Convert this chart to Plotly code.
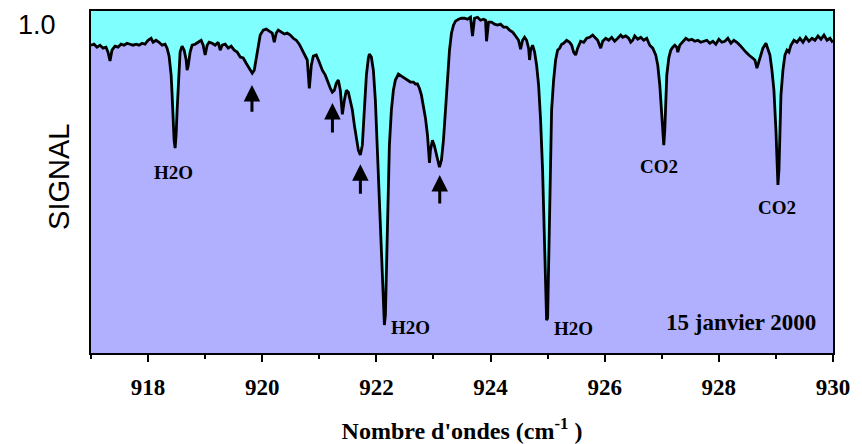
import plotly.graph_objects as go

# Atmospheric transmission spectrum, 15 January 2000
wavenumber = [
    917.000, 917.053, 917.105, 917.158, 917.211, 917.263, 917.298, 917.333, 917.368, 917.421,
    917.474, 917.526, 917.579, 917.632, 917.684, 917.737, 917.789, 917.842, 917.895, 917.947,
    918.000, 918.053, 918.088, 918.140, 918.193, 918.246, 918.298, 918.333, 918.368, 918.404,
    918.421, 918.439, 918.456, 918.474, 918.491, 918.509, 918.526, 918.544, 918.561, 918.596,
    918.632, 918.667, 918.684, 918.702, 918.737, 918.772, 918.825, 918.877, 918.930, 918.965,
    919.000, 919.035, 919.070, 919.123, 919.175, 919.228, 919.263, 919.298, 919.351, 919.404,
    919.456, 919.509, 919.561, 919.614, 919.667, 919.719, 919.772, 919.825, 919.860, 919.895,
    919.930, 919.965, 920.018, 920.070, 920.123, 920.175, 920.211, 920.246, 920.281, 920.333,
    920.386, 920.439, 920.491, 920.544, 920.596, 920.649, 920.702, 920.754, 920.789, 920.825,
    920.860, 920.895, 920.947, 921.000, 921.053, 921.105, 921.158, 921.193, 921.228, 921.263,
    921.298, 921.333, 921.368, 921.404, 921.439, 921.474, 921.509, 921.544, 921.579, 921.614,
    921.649, 921.684, 921.719, 921.754, 921.789, 921.825, 921.860, 921.877, 921.912, 921.947,
    921.982, 922.018, 922.053, 922.088, 922.123, 922.140, 922.158, 922.175, 922.193, 922.211,
    922.228, 922.263, 922.298, 922.333, 922.386, 922.439, 922.491, 922.544, 922.596, 922.649,
    922.684, 922.719, 922.754, 922.789, 922.825, 922.860, 922.895, 922.912, 922.930, 922.947,
    922.982, 923.018, 923.053, 923.088, 923.105, 923.140, 923.175, 923.211, 923.246, 923.281,
    923.316, 923.351, 923.386, 923.439, 923.491, 923.544, 923.596, 923.649, 923.684, 923.719,
    923.772, 923.825, 923.877, 923.912, 923.930, 923.965, 924.018, 924.070, 924.123, 924.175,
    924.228, 924.281, 924.333, 924.386, 924.439, 924.491, 924.526, 924.561, 924.596, 924.632,
    924.667, 924.684, 924.702, 924.737, 924.772, 924.807, 924.842, 924.877, 924.912, 924.947,
    924.982, 925.000, 925.018, 925.035, 925.053, 925.070, 925.105, 925.140, 925.175, 925.211,
    925.246, 925.281, 925.333, 925.386, 925.421, 925.456, 925.491, 925.526, 925.579, 925.632,
    925.684, 925.737, 925.789, 925.825, 925.877, 925.930, 925.965, 926.018, 926.070, 926.123,
    926.175, 926.228, 926.281, 926.316, 926.368, 926.421, 926.456, 926.491, 926.526, 926.579,
    926.632, 926.684, 926.737, 926.789, 926.842, 926.895, 926.930, 926.965, 927.000, 927.018,
    927.035, 927.053, 927.070, 927.088, 927.123, 927.158, 927.193, 927.228, 927.263, 927.281,
    927.316, 927.368, 927.421, 927.474, 927.526, 927.579, 927.632, 927.684, 927.737, 927.789,
    927.842, 927.895, 927.947, 928.000, 928.053, 928.105, 928.158, 928.211, 928.263, 928.316,
    928.368, 928.421, 928.474, 928.526, 928.579, 928.632, 928.667, 928.702, 928.737, 928.772,
    928.825, 928.860, 928.895, 928.930, 928.965, 929.000, 929.018, 929.035, 929.053, 929.070,
    929.088, 929.123, 929.158, 929.193, 929.228, 929.263, 929.316, 929.368, 929.421, 929.474,
    929.526, 929.579, 929.632, 929.684, 929.737, 929.789, 929.842, 929.895, 929.947, 929.982,
    930.000,
]

signal = [
    0.936, 0.939, 0.930, 0.936, 0.927, 0.930, 0.915, 0.888, 0.921, 0.933,
    0.930, 0.939, 0.936, 0.942, 0.939, 0.936, 0.939, 0.936, 0.942, 0.939,
    0.951, 0.957, 0.945, 0.951, 0.945, 0.936, 0.939, 0.927, 0.903, 0.845,
    0.784, 0.708, 0.647, 0.623, 0.663, 0.739, 0.815, 0.875, 0.915, 0.933,
    0.921, 0.891, 0.860, 0.872, 0.915, 0.936, 0.939, 0.945, 0.951, 0.936,
    0.906, 0.936, 0.945, 0.942, 0.936, 0.945, 0.921, 0.936, 0.939, 0.927,
    0.933, 0.921, 0.915, 0.900, 0.897, 0.881, 0.866, 0.851, 0.860, 0.897,
    0.936, 0.967, 0.982, 0.985, 0.979, 0.973, 0.945, 0.973, 0.982, 0.976,
    0.970, 0.973, 0.967, 0.957, 0.951, 0.939, 0.921, 0.906, 0.891, 0.805,
    0.875, 0.903, 0.906, 0.884, 0.860, 0.845, 0.818, 0.805, 0.793, 0.799,
    0.821, 0.830, 0.799, 0.726, 0.769, 0.799, 0.793, 0.769, 0.739, 0.693,
    0.653, 0.617, 0.602, 0.632, 0.739, 0.845, 0.897, 0.909, 0.900, 0.860,
    0.769, 0.617, 0.465, 0.283, 0.131, 0.085, 0.116, 0.252, 0.404, 0.526,
    0.632, 0.739, 0.799, 0.830, 0.848, 0.842, 0.836, 0.830, 0.824, 0.824,
    0.818, 0.818, 0.805, 0.784, 0.754, 0.714, 0.663, 0.617, 0.578, 0.617,
    0.647, 0.629, 0.602, 0.578, 0.565, 0.587, 0.647, 0.739, 0.845, 0.921,
    0.973, 0.997, 1.009, 1.015, 1.018, 1.018, 1.015, 1.021, 0.964, 1.018,
    1.021, 1.012, 1.015, 1.012, 0.948, 1.006, 1.006, 1.000, 0.997, 1.000,
    0.991, 0.991, 0.982, 0.976, 0.964, 0.951, 0.924, 0.951, 0.960, 0.951,
    0.927, 0.891, 0.921, 0.936, 0.915, 0.875, 0.815, 0.708, 0.556, 0.343,
    0.100, 0.106, 0.252, 0.435, 0.617, 0.739, 0.830, 0.891, 0.921, 0.927,
    0.939, 0.942, 0.951, 0.945, 0.936, 0.915, 0.906, 0.927, 0.948, 0.945,
    0.957, 0.960, 0.967, 0.960, 0.951, 0.927, 0.948, 0.957, 0.951, 0.960,
    0.948, 0.957, 0.967, 0.960, 0.964, 0.957, 0.945, 0.951, 0.964, 0.954,
    0.960, 0.951, 0.957, 0.936, 0.927, 0.906, 0.875, 0.815, 0.723, 0.663,
    0.632, 0.678, 0.769, 0.845, 0.897, 0.921, 0.930, 0.936, 0.930, 0.915,
    0.936, 0.945, 0.957, 0.951, 0.954, 0.948, 0.951, 0.945, 0.948, 0.951,
    0.942, 0.948, 0.939, 0.954, 0.945, 0.948, 0.957, 0.942, 0.951, 0.945,
    0.936, 0.927, 0.915, 0.906, 0.897, 0.891, 0.866, 0.884, 0.906, 0.927,
    0.942, 0.927, 0.906, 0.860, 0.799, 0.678, 0.571, 0.511, 0.556, 0.678,
    0.784, 0.860, 0.906, 0.921, 0.915, 0.936, 0.951, 0.945, 0.957, 0.945,
    0.960, 0.948, 0.957, 0.951, 0.964, 0.954, 0.967, 0.951, 0.957, 0.948,
    0.951,
]

# Identified absorption lines (label, wavenumber, signal where the label sits)
band_labels = ["H2O", "H2O", "H2O", "CO2", "CO2"]
band_label_x = [918.44, 922.60, 925.46, 926.96, 929.02]
band_label_y = [0.550, 0.079, 0.076, 0.568, 0.441]

# Unidentified features marked with arrows (wavenumber, arrow tip, arrow tail)
arrow_x = [919.82, 921.23, 921.72, 923.11]
arrow_tip = [0.815, 0.760, 0.574, 0.541]
arrow_tail = [0.729, 0.666, 0.480, 0.450]

date_label = "15 janvier 2000"
date_x = 928.39
date_y = 0.094

serif_bold = dict(family="Liberation Serif", color="black", weight="bold")

fig = go.Figure()
fig.add_trace(go.Scatter(
    x=wavenumber, y=signal, mode="lines",
    line=dict(color="black", width=2.8),
    fill="tozeroy", fillcolor="#B0B0FF",
    showlegend=False, hoverinfo="skip",
))

annotations = []
for text, x, y in zip(band_labels, band_label_x, band_label_y):
    annotations.append(dict(x=x, y=y, xref="x", yref="y", text=text, showarrow=False,
                            font=dict(serif_bold, size=19)))
for x, tip, tail in zip(arrow_x, arrow_tip, arrow_tail):
    annotations.append(dict(x=x, y=tip, ax=x, ay=tail, xref="x", yref="y",
                            axref="x", ayref="y", text="", showarrow=True,
                            arrowhead=2, arrowsize=1.1, arrowwidth=3, arrowcolor="black"))
annotations.append(dict(x=date_x, y=date_y, xref="x", yref="y", text=date_label,
                        showarrow=False, font=dict(serif_bold, size=23)))
annotations.append(dict(x=-0.043, y=0.515, xref="paper", yref="paper", text="SIGNAL",
                        textangle=-90, showarrow=False, xanchor="center", yanchor="middle",
                        font=dict(family="Liberation Sans", size=29, color="black")))

fig.update_layout(
    width=862, height=444,
    margin=dict(l=91, r=29, t=11, b=91, autoexpand=False),
    paper_bgcolor="white", plot_bgcolor="#80FFFF",
    annotations=annotations,
    xaxis=dict(
        range=[917, 930], tickmode="linear", tick0=918, dtick=2,
        ticks="outside", ticklen=7, tickwidth=2, tickcolor="black",
        minor=dict(dtick=1, tick0=917, ticks="outside", ticklen=4, tickwidth=2, tickcolor="black"),
        showline=True, linewidth=2, linecolor="black", mirror=True,
        showgrid=False, zeroline=False, ticklabelstandoff=5, automargin=False,
        tickfont=dict(serif_bold, size=23),
        title=dict(text="Nombre d'ondes (cm<sup>-1</sup> )", font=dict(serif_bold, size=24), standoff=29),
    ),
    yaxis=dict(
        range=[0, 1.04], tickmode="array", tickvals=[1.0], ticktext=["1.0"],
        ticks="", showline=True, linewidth=2, linecolor="black", mirror=True,
        showgrid=False, zeroline=False, ticklabelstandoff=28, automargin=False,
        tickfont=dict(family="Liberation Sans", size=27, color="black"),
    ),
)

fig.write_html("out.html")
